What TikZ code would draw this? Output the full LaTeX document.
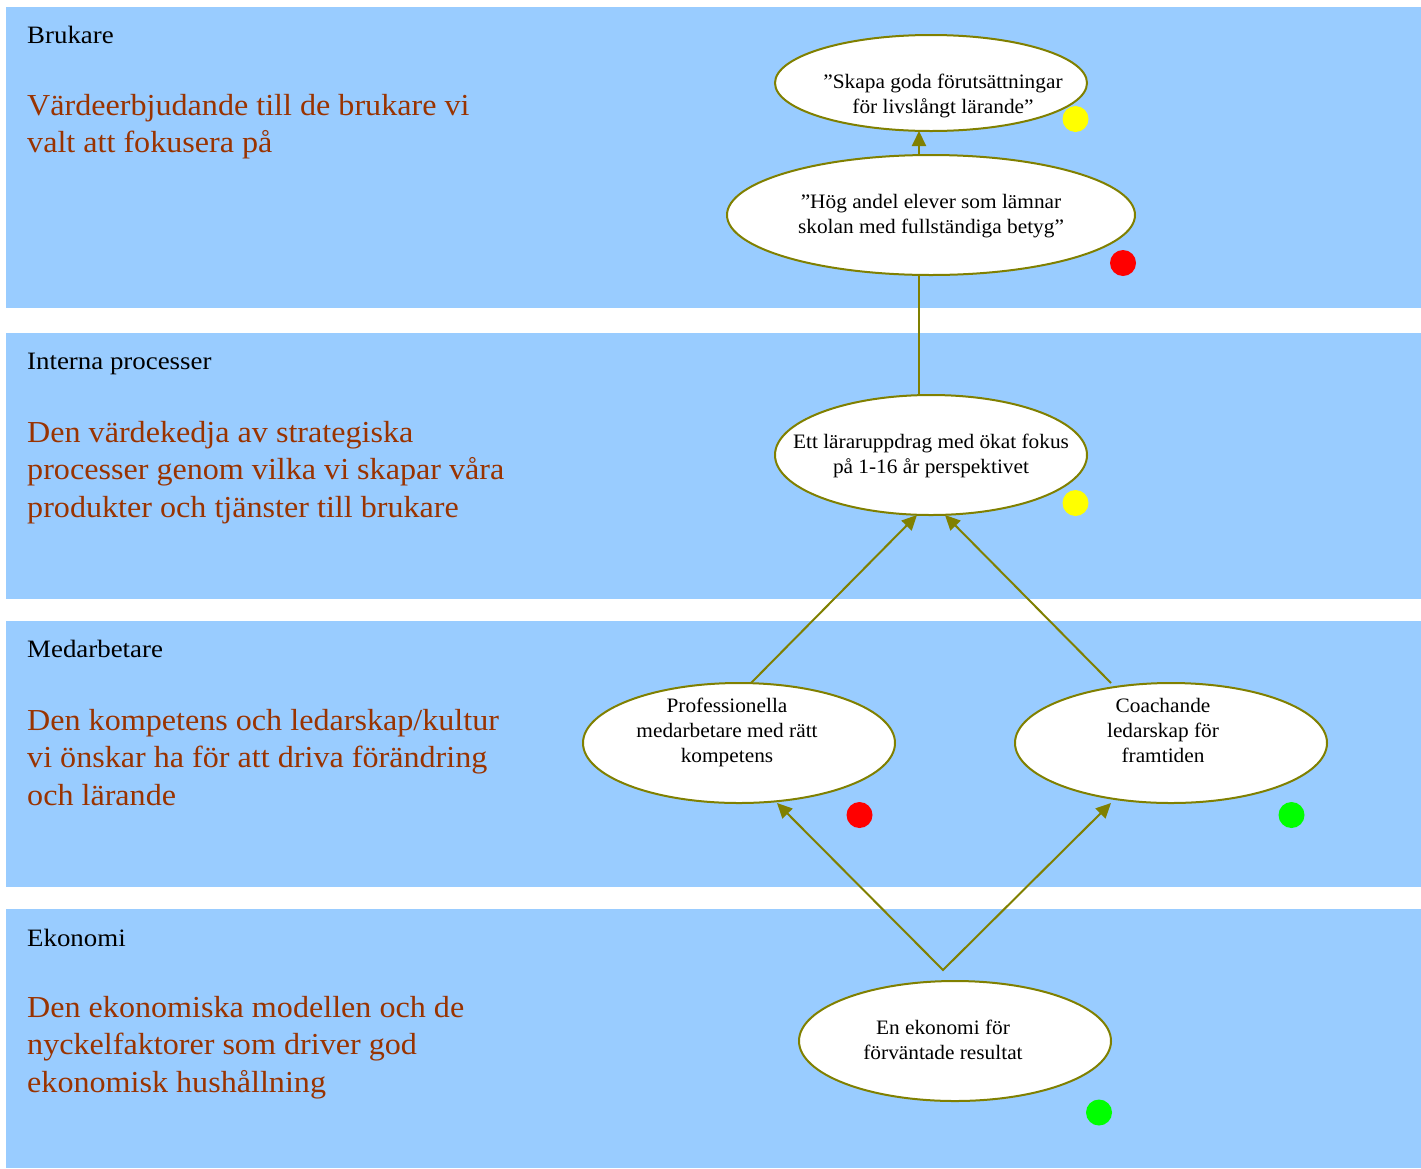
\documentclass[tikz,border=0pt]{standalone}
\usepackage{fontspec}
\setmainfont{Liberation Serif}
\usepackage{graphicx}
\usetikzlibrary{shapes.geometric,arrows.meta}

\definecolor{bandblue}{HTML}{99CCFF}
\definecolor{rust}{HTML}{993300}
\definecolor{linkolive}{HTML}{808000}
\definecolor{dotyellow}{HTML}{FFFF00}
\definecolor{dotred}{HTML}{FF0000}
\definecolor{dotgreen}{HTML}{00FF00}

% centred / left-aligned multi-line blocks whose baseline is the first line
\newcommand\ovaltext[1]{\scalebox{1.04}[1]{\begin{tabular}[t]{@{}c@{}}#1\end{tabular}}}
\newcommand\bandtext[1]{\scalebox{1.053}[1]{\begin{tabular}[t]{@{}l@{}}#1\end{tabular}}}
\newcommand\bandhead[1]{\scalebox{1.075}[1]{#1}}

\tikzset{
  band/.style={fill=bandblue},
  oval/.style={ellipse, draw=linkolive, line width=2pt, fill=white,
               inner sep=0pt, outer sep=0pt},
  ovallabel/.style={anchor=base, inner sep=0pt, text=black,
               font=\fontsize{20.5}{25}\selectfont},
  headlabel/.style={anchor=base west, inner sep=0pt, text=black,
               font=\fontsize{25}{30}\selectfont},
  desclabel/.style={anchor=base west, inner sep=0pt, text=rust,
               font=\fontsize{30.5}{37.5}\selectfont},
  link/.style={draw=linkolive, line width=2pt},
  tip/.tip={Triangle[length=15pt,width=14pt]},
  arr/.style={link, -tip},
  dot/.style={circle, inner sep=0pt, outer sep=0pt, minimum size=26pt},
}

\begin{document}
\begin{tikzpicture}[x=1pt,y=-1pt]
  \useasboundingbox (0,0) rectangle (1421,1168);
  \fill[white] (0,0) rectangle (1421,1168);

  % perspective bands
  \fill[band] (6,7)   rectangle (1421,307.5);
  \fill[band] (6,333) rectangle (1421,599);
  \fill[band] (6,621) rectangle (1421,886.5);
  \fill[band] (6,909) rectangle (1421,1167.5);

  % band titles
  \node[headlabel] (hBrukare) at (27,43)    {\bandhead{Brukare}};
  \node[headlabel] (hInterna) at (27,369)   {\bandhead{Interna processer}};
  \node[headlabel] (hMedarb)  at (27,657.5) {\bandhead{Medarbetare}};
  \node[headlabel] (hEkonomi) at (27,946)   {\bandhead{Ekonomi}};

  % band descriptions
  \node[desclabel] (dBrukare) at (27,115)  {\bandtext{Värdeerbjudande till de brukare vi\\valt att fokusera på}};
  \node[desclabel] (dInterna) at (27,442)  {\bandtext{Den värdekedja av strategiska\\processer genom vilka vi skapar våra\\produkter och tjänster till brukare}};
  \node[desclabel] (dMedarb)  at (27,730)  {\bandtext{Den kompetens och ledarskap/kultur\\vi önskar ha för att driva förändring\\och lärande}};
  \node[desclabel] (dEkonomi) at (27,1017) {\bandtext{Den ekonomiska modellen och de\\nyckelfaktorer som driver god\\ekonomisk hushållning}};

  % goals
  \node[oval, minimum width=312pt, minimum height=96pt]  (skapa) at (931,83)    {};
  \node[oval, minimum width=408pt, minimum height=120pt] (hog)   at (931,215)   {};
  \node[oval, minimum width=312pt, minimum height=120pt] (larar) at (931,455)   {};
  \node[oval, minimum width=312pt, minimum height=120pt] (prof)  at (739,743)   {};
  \node[oval, minimum width=312pt, minimum height=120pt] (coach) at (1171,743)  {};
  \node[oval, minimum width=312pt, minimum height=120pt] (ekon)  at (955,1041)  {};

  \node[ovallabel] (tSkapa) at (943,88)   {\ovaltext{”Skapa goda förutsättningar\\för livslångt lärande”}};
  \node[ovallabel] (tHog)   at (931,208)  {\ovaltext{”Hög andel elever som lämnar\\skolan med fullständiga betyg”}};
  \node[ovallabel] (tLarar) at (931,448)  {\ovaltext{Ett läraruppdrag med ökat fokus\\på 1-16 år perspektivet}};
  \node[ovallabel] (tProf)  at (727,712)  {\ovaltext{Professionella\\medarbetare med rätt\\kompetens}};
  \node[ovallabel] (tCoach) at (1163,712) {\ovaltext{Coachande\\ledarskap för\\framtiden}};
  \node[ovallabel] (tEkon)  at (943,1034) {\ovaltext{En ekonomi för\\förväntade resultat}};

  % status markers
  \node[dot, fill=dotyellow] (sSkapa) at (1075.5,119)  {};
  \node[dot, fill=dotred]    (sHog)   at (1123,263)    {};
  \node[dot, fill=dotyellow] (sLarar) at (1075.5,503)  {};
  \node[dot, fill=dotred]    (sProf)  at (859.5,815)   {};
  \node[dot, fill=dotgreen]  (sCoach) at (1291.5,815)  {};
  \node[dot, fill=dotgreen]  (sEkon)  at (1099,1112.5) {};

  % cause-and-effect links
  \coordinate (fork) at (943,970);
  \draw[arr]  ([xshift=-12pt]hog.north)   -- ([xshift=-12pt]skapa.south);
  \draw[link] ([xshift=-12pt]larar.north) -- ([xshift=-12pt]hog.south);
  \draw[arr]  ([xshift=12pt]prof.north)   -- ([xshift=-14pt]larar.south);
  \draw[arr]  ([xshift=-60pt]coach.north) -- ([xshift=14pt]larar.south);
  \draw[link, tip-tip, line join=miter]
        ([xshift=38pt]prof.south) -- (fork) -- ([xshift=-60pt]coach.south);
\end{tikzpicture}
\end{document}
